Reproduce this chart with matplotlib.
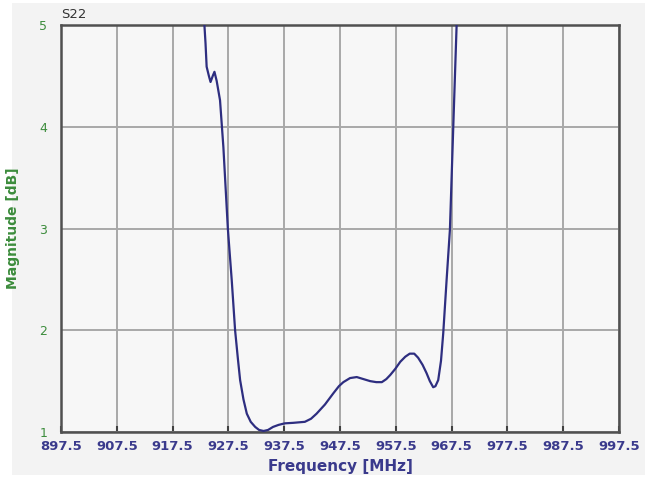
import numpy as np
import matplotlib.pyplot as plt
from matplotlib.patches import Rectangle

# S22 trace
freq = [923.0, 923.2, 923.4, 923.6, 924.0, 924.3, 924.7, 925.0, 925.4, 926.0,
        926.6, 927.0, 927.4, 928.1, 928.7, 929.2, 929.6, 930.2, 930.8, 931.5,
        932.3, 933.0, 933.8, 934.6, 935.5, 936.5, 937.6, 939.1, 941.2, 942.3,
        943.3, 944.8, 946.3, 947.3, 948.1, 949.3, 950.5, 951.7, 952.9, 954.0,
        955.0, 955.8, 956.5, 957.4, 958.3, 959.2, 960.0, 960.8, 961.5, 962.3,
        963.0, 963.6, 964.2, 964.6, 965.1, 965.6, 966.0, 966.6, 967.2, 967.8,
        968.4, 968.6]
mag = [5.6, 5.0, 4.82, 4.59, 4.50, 4.44, 4.50, 4.54, 4.45, 4.26,
       3.80, 3.40, 3.00, 2.49, 2.00, 1.72, 1.51, 1.32, 1.18, 1.10,
       1.05, 1.02, 1.01, 1.02, 1.05, 1.07, 1.085, 1.09, 1.10, 1.13,
       1.18, 1.27, 1.38, 1.45, 1.49, 1.53, 1.54, 1.52, 1.50, 1.49,
       1.49, 1.52, 1.56, 1.62, 1.69, 1.74, 1.77, 1.77, 1.73, 1.66,
       1.58, 1.50, 1.44, 1.45, 1.51, 1.70, 1.97, 2.49, 2.99, 4.00,
       5.00, 5.6]

xticks = [897.5 + 10 * i for i in range(11)]
yticks = [1, 2, 3, 4, 5]

navy = '#3a3a8c'
green = '#3c8c3c'

fig = plt.figure(figsize=(6.57, 4.90), dpi=100, facecolor='white')
fig.patches.append(Rectangle((12 / 657, 1 - 475 / 490), 633 / 657, 472 / 490,
                             transform=fig.transFigure, facecolor='#f3f3f3',
                             edgecolor='none', zorder=-10))
ax = fig.add_axes([61 / 657, 1 - 432 / 490, 558 / 657, 407 / 490])
ax.set_facecolor('#f7f7f7')

ax.plot(freq, mag, color='#2e2e80', lw=1.6, zorder=3)

ax.set_xlim(897.5, 997.5)
ax.set_ylim(1, 5)
ax.set_xticks(xticks)
ax.set_xticklabels(['%.1f' % t for t in xticks])
ax.set_yticks(yticks)
ax.grid(True, color='#a8a8a8', lw=1.4, zorder=1)
ax.set_axisbelow(True)

for s in ax.spines.values():
    s.set_color('#505050')
    s.set_linewidth(1.8)

ax.tick_params(axis='x', direction='in', length=4, width=1.5, color='#404040',
               labelcolor=navy, labelsize=9.5, pad=6)
ax.tick_params(axis='y', direction='in', length=0, labelcolor=green,
               labelsize=9, pad=10)
for lab in ax.get_xticklabels():
    lab.set_fontweight('bold')

ax.set_xlabel('Frequency [MHz]', color=navy, fontsize=11, fontweight='bold', labelpad=4)
ax.set_ylabel('Magnitude [dB]', color=green, fontsize=10, fontweight='bold', labelpad=14)
ax.text(0.0, 1.01, 'S22', transform=ax.transAxes, fontsize=9.5, color='#333333',
        ha='left', va='bottom')

fig.savefig('out.png', dpi=100, facecolor=fig.get_facecolor())
